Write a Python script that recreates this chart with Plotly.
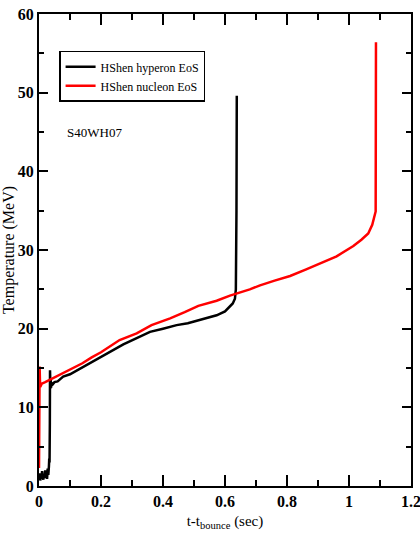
import plotly.graph_objects as go

# HShen hyperon EoS (black)
hyp_t = [0, 0.002, 0.004, 0.006, 0.008, 0.010, 0.012, 0.014, 0.016, 0.018, 0.020, 0.022,
         0.024, 0.026, 0.028, 0.030, 0.032, 0.033, 0.034, 0.035, 0.0355, 0.036, 0.0365,
         0.037, 0.038, 0.039, 0.040, 0.042, 0.045, 0.05, 0.06, 0.078, 0.10, 0.122, 0.15,
         0.197, 0.23, 0.272, 0.31, 0.358, 0.40, 0.444, 0.48, 0.519, 0.55, 0.573, 0.60,
         0.616, 0.625, 0.632, 0.635, 0.637, 0.638]
hyp_T = [1.0, 1.6, 0.7, 1.4, 0.9, 1.9, 1.1, 0.8, 1.5, 1.0, 2.0, 1.2,
         1.6, 0.9, 2.2, 1.4, 2.5, 3.5, 3.0, 8.0, 14.7, 12.2, 13.8,
         12.4, 13.5, 12.5, 13.2, 12.8, 13.0, 13.2, 13.3, 13.9, 14.2, 14.7, 15.3,
         16.4, 17.1, 18.0, 18.7, 19.6, 20.0, 20.45, 20.7, 21.1, 21.4, 21.7, 22.2,
         22.8, 23.2, 23.8, 25.0, 35.0, 49.6]

# HShen nucleon EoS (red)
nuc_t = [0, 0.001, 0.002, 0.003, 0.004, 0.006, 0.009, 0.02, 0.04, 0.06, 0.08, 0.11,
         0.14, 0.17, 0.2, 0.26, 0.315, 0.363, 0.423, 0.47, 0.514, 0.573, 0.616, 0.68,
         0.713, 0.76, 0.81, 0.86, 0.906, 0.96, 1.014, 1.04, 1.062, 1.075, 1.086, 1.087]
nuc_T = [2.3, 8.0, 15.2, 13.5, 12.6, 12.8, 13.0, 13.2, 13.6, 14.0, 14.4, 14.95,
         15.6, 16.35, 17.0, 18.55, 19.4, 20.45, 21.3, 22.1, 22.9, 23.55, 24.2, 25.0,
         25.5, 26.1, 26.7, 27.5, 28.3, 29.2, 30.5, 31.3, 32.1, 33.2, 34.9, 56.4]

x_ticks = [0, 0.2, 0.4, 0.6, 0.8, 1.0, 1.2]
x_tick_labels = ["0", "0.2", "0.4", "0.6", "0.8", "1", "1.2"]
y_ticks = [0, 10, 20, 30, 40, 50, 60]
y_tick_labels = ["0", "10", "20", "30", "40", "50", "60"]

serif = "Liberation Serif"

fig = go.Figure()
fig.add_trace(go.Scatter(x=hyp_t, y=hyp_T, mode="lines", name="HShen hyperon EoS",
                         line=dict(color="black", width=2.5)))
fig.add_trace(go.Scatter(x=nuc_t, y=nuc_T, mode="lines", name="HShen nucleon EoS",
                         line=dict(color="#ff0000", width=2.5)))

fig.add_annotation(x=0.084, y=45, text="S40WH07", showarrow=False, xanchor="left",
                   yanchor="middle", font=dict(family=serif, size=13, color="black"))

axis_common = dict(showline=True, linecolor="black", linewidth=2, mirror="ticks",
                   ticks="inside", tickcolor="black", tickwidth=1.5, showgrid=False,
                   zeroline=False, automargin=False, ticklabeloverflow="allow",
                   tickfont=dict(family=serif, size=16, color="black", weight="bold"))

fig.update_xaxes(range=[0, 1.2], tickmode="array", tickvals=x_ticks, ticktext=x_tick_labels,
                 ticklen=11,
                 minor=dict(dtick=0.1, tick0=0, ticklen=6, ticks="inside", tickcolor="black",
                            tickwidth=1.5),
                 title=dict(text="t-t<sub>bounce</sub> (sec)", standoff=6,
                            font=dict(family=serif, size=15, color="black")),
                 **axis_common)
fig.update_yaxes(range=[0, 60], tickmode="array", tickvals=y_ticks, ticktext=y_tick_labels,
                 ticklen=9,
                 minor=dict(dtick=5, tick0=0, ticklen=5, ticks="inside", tickcolor="black",
                            tickwidth=1.5),
                 title=dict(text="Temperature (MeV)", standoff=4,
                            font=dict(family=serif, size=16, color="black")),
                 **axis_common)

fig.update_layout(
    width=420, height=535,
    margin=dict(l=39, r=9, t=14, b=49),
    paper_bgcolor="white", plot_bgcolor="white",
    legend=dict(x=0.054, y=0.922, xanchor="left", yanchor="top",
                bordercolor="black", borderwidth=1.5, bgcolor="white",
                font=dict(family=serif, size=12, color="black"),
                tracegroupgap=0, itemwidth=30),
    showlegend=True,
)

fig.write_html("out.html")
